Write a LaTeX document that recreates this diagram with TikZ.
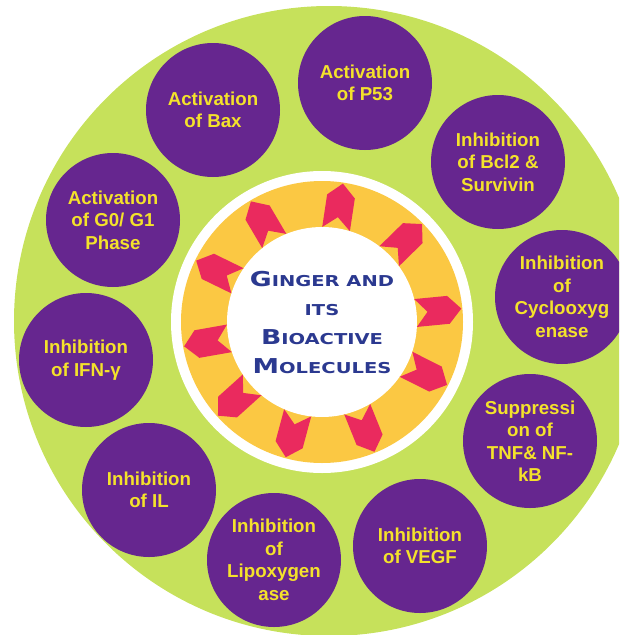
\documentclass[tikz,border=0pt]{standalone}
\usepackage{fontspec}
\setmainfont{Liberation Sans}
\newfontfamily\ctrfont{DejaVu Sans}[FakeStretch=1.3]
\definecolor{cgreen}{HTML}{C6E15B}
\definecolor{cpurple}{HTML}{66268F}
\definecolor{ctext}{HTML}{F4E22B}
\definecolor{cring}{HTML}{FBC843}
\definecolor{cpink}{HTML}{EA2A5E}
\definecolor{cblue}{HTML}{2B3990}
\newcommand\BigL[1]{{\fontsize{20.5}{29}\selectfont #1}}
\begin{document}
\begin{tikzpicture}[x=1pt,y=-1pt,
  item/.style={circle, fill=cpurple, minimum size=134pt, inner sep=0pt,
    text=ctext, align=center, font=\bfseries\fontsize{18.7}{22.5}\selectfont},
  core/.style={circle, fill=white, minimum size=190pt, inner sep=0pt,
    text=cblue, align=center, font=\ctrfont\bfseries\fontsize{15}{29}\selectfont},
  chev/.style={fill=cpink}]
\useasboundingbox (0,0) rectangle (619,635);
\clip (0,0) rectangle (619,635);
\fill[cgreen] (329,321) circle[radius=315];
\fill[white] (322,322) circle[radius=151];
\fill[cring] (322,322) circle[radius=141];
\node[core] (ginger) at (322,322) {\BigL{G}INGER AND\\ITS\\\BigL{B}IOACTIVE\\\BigL{M}OLECULES};
\foreach \a in {5.5,44.4,81.4,120.5,154,190,222,255,292,333.3}
  \fill[chev, shift={(322,322)}, rotate=\a]
    (94,14) -- (127,14) -- (140,0) -- (127,-14) -- (94,-14) -- (106,0) -- cycle;
\node[item] (bax) at (213,110) {Activation\\of Bax};
\node[item] (p53) at (365,83) {Activation\\of P53};
\node[item] (bcl) at (498,162) {Inhibition\\of Bcl2 \&\\Survivin};
\node[item] (cox) at (562,297) {Inhibition\\of\\Cyclooxyg\\enase};
\node[item] (tnf) at (530,441) {Suppressi\\on of\\TNF\& NF-\\kB};
\node[item] (vegf) at (420,546) {Inhibition\\of VEGF};
\node[item] (lox) at (274,560) {Inhibition\\of\\Lipoxygen\\ase};
\node[item] (il) at (149,490) {Inhibition\\of IL};
\node[item] (ifn) at (86,360) {Inhibition\\of IFN-γ};
\node[item] (g01) at (113,220) {Activation\\of G0/ G1\\Phase};
\end{tikzpicture}
\end{document}
